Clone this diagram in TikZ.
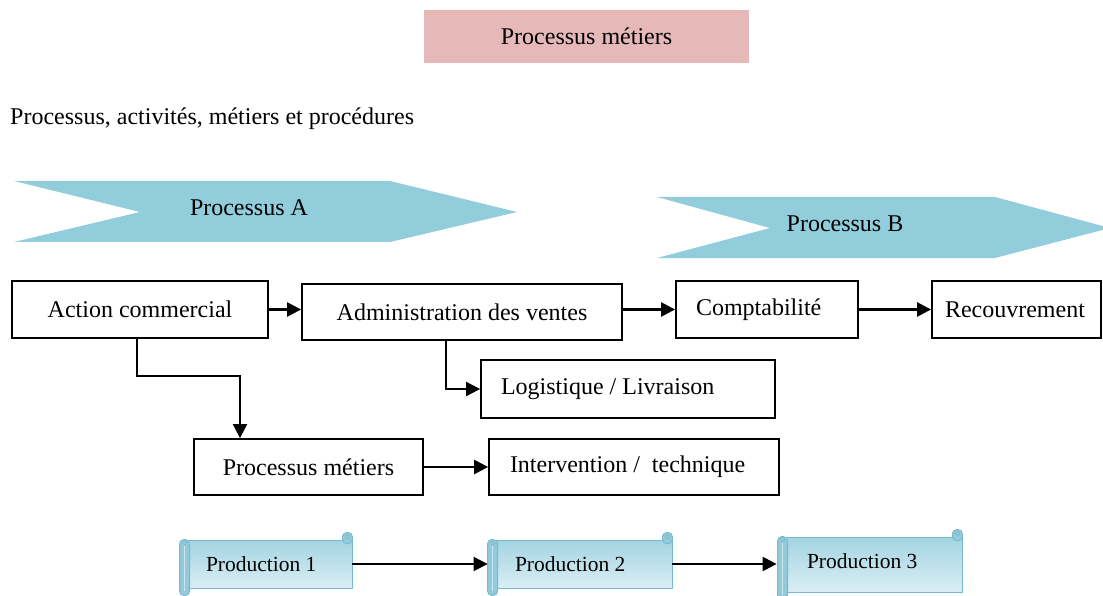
\documentclass[tikz,border=0pt]{standalone}
\usepackage{fontspec}
\setmainfont{Liberation Serif}
\usetikzlibrary{arrows.meta,calc}
\definecolor{chevfill}{HTML}{92CDDC}
\definecolor{titlefill}{HTML}{E6B9B8}
\definecolor{scrolltop}{HTML}{A3D4E2}
\definecolor{scrollbot}{HTML}{DAEEF4}
\definecolor{rollfill}{HTML}{93CADA}
\definecolor{rolledge}{HTML}{78B9CD}
\tikzset{
  txt/.style={font=\fontsize{24}{28}\selectfont, inner sep=0pt},
  box/.style={draw=black, line width=1.8pt, font=\fontsize{24}{28}\selectfont,
              inner ysep=0pt},
  cbox/.style={box, inner xsep=0pt},
  lbox/.style={box},
  prod/.style={draw=rolledge, line width=0.8pt, top color=scrolltop, bottom color=scrollbot,
               font=\fontsize{21.5}{25}\selectfont, inner ysep=0pt},
  arr/.style={line width=2.4pt, -{Triangle[length=14pt,width=14pt]}},
  elbow/.style={line width=1.9pt, -{Triangle[length=14pt,width=14pt]}},
  chev/.style={fill=chevfill, draw=none}
}
% left-set label of a given width
\newcommand\lset[2]{\makebox[#1][l]{#2}}
% rolled ends of a horizontal scroll
\newcommand\scrollparts[1]{%
  \draw[rolledge, line width=0.8pt, fill=rollfill, rounded corners=4pt]
    ([xshift=-4pt]#1.north west) rectangle ([xshift=6pt,yshift=-7pt]#1.south west);
  \draw[white!55!rollfill, line width=1.2pt]
    ([xshift=1pt,yshift=-6pt]#1.north west) -- ([xshift=1pt,yshift=-3pt]#1.south west);
  \draw[rolledge, line width=0.6pt] ([xshift=1pt,yshift=-3pt]#1.north west) circle (2pt);
  \draw[rolledge, line width=0.8pt, fill=rollfill, rounded corners=4pt]
    ([xshift=-10pt,yshift=7pt]#1.north east) rectangle ([yshift=-4pt]#1.north east);
  \draw[rolledge, line width=0.6pt] ([xshift=-5pt,yshift=3pt]#1.north east) circle (2pt);
}
\begin{document}
\begin{tikzpicture}[x=1pt,y=-1pt]
\useasboundingbox (0,0) rectangle (1103,596);

% heading
\node[txt, fill=titlefill, minimum width=325pt, minimum height=53pt] (title) at (586.5,36.5) {Processus métiers};
\node[txt, anchor=west] (sub) at (10,119) {Processus, activités, métiers et procédures};

% process chevrons
\fill[chev] (14,181) -- (390,181) -- (517,212) -- (390,242) -- (14,242) -- (140,212) -- cycle;
\node[txt] (pa) at (249,208) {Processus A};
\fill[chev] (657,197) -- (995,197) -- (1110,228) -- (995,258) -- (657,258) -- (770,228) -- cycle;
\node[txt] (pb) at (845,224) {Processus B};

% activity boxes
\node[cbox, minimum width=256pt, minimum height=57pt] (ac) at (140,309.5) {Action commercial};
\node[cbox, minimum width=320pt, minimum height=56pt] (adm) at (462,312) {Administration des ventes};
\node[lbox, inner xsep=20pt, minimum height=57pt] (cpt) at (767,309.5) {\lset{142pt}{Comptabilité}};
\node[lbox, inner xsep=13pt, minimum height=57pt] (rec) at (1016.5,309.5) {\lset{143pt}{Recouvrement}};
\node[lbox, inner xsep=20pt, minimum height=58pt] (log) at (628,389) {\lset{254pt}{Logistique / Livraison}};
\node[cbox, minimum width=229pt, minimum height=56pt] (pm) at (308.5,467) {Processus métiers};
\node[lbox, inner xsep=21pt, minimum height=56pt] (int) at (634,467) {\lset{248pt}{Intervention /\ \ technique}};

% connectors
\draw[arr] (ac.east) -- (ac.east -| adm.west);
\draw[arr] (adm.east |- cpt.east) -- (cpt.west);
\draw[arr] (cpt.east) -- (rec.west);
\draw[elbow] ([xshift=-16pt]adm.south) |- (log.west);
\draw[elbow] ([xshift=-3pt]ac.south) -- ++(0,37) -| ([xshift=-68.5pt]pm.north);
\draw[arr] (pm.east) -- (pm.east -| int.west);

% production scrolls
\node[prod, inner xsep=22pt, minimum height=48pt] (p1) at (268,564) {\lset{124pt}{Production 1}};
\node[prod, inner xsep=23pt, minimum height=48pt] (p2) at (582,564) {\lset{134pt}{Production 2}};
\node[prod, inner xsep=25pt, minimum height=55pt] (p3) at (872,564.5) {\lset{130pt}{\raisebox{6pt}{Production 3}}};
\scrollparts{p1}
\scrollparts{p2}
\scrollparts{p3}
\draw[arr, shorten >=4pt] (p1.east) -- (p2.west);
\draw[arr, shorten >=5pt] (p2.east) -- (p2.east -| p3.west);
\end{tikzpicture}
\end{document}
